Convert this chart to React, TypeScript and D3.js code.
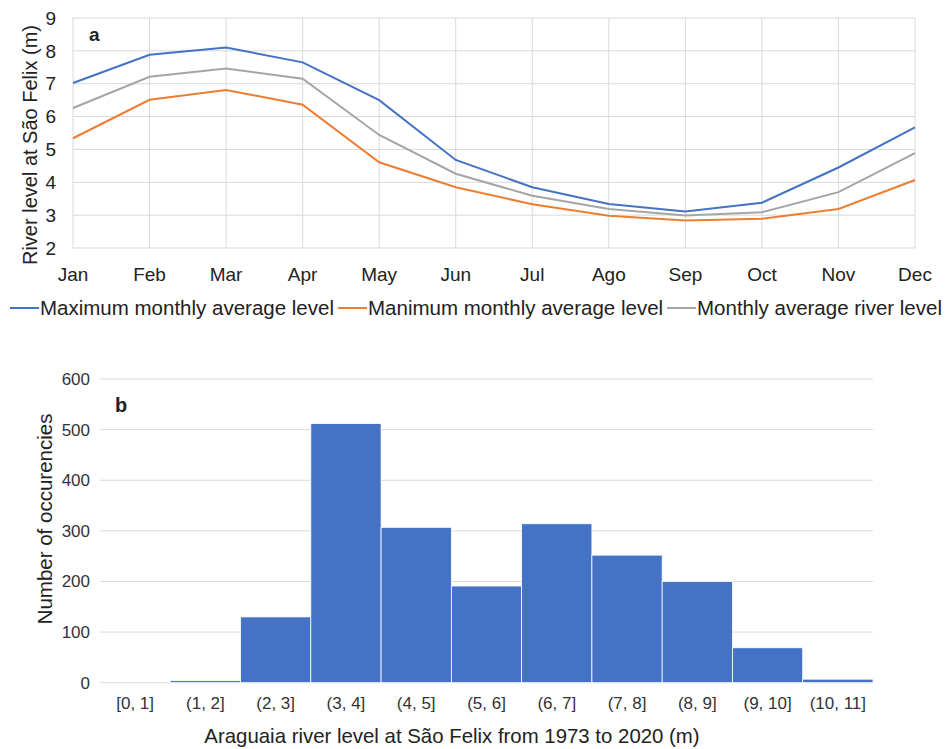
import * as d3 from 'd3';

const months = ['Jan', 'Feb', 'Mar', 'Apr', 'May', 'Jun', 'Jul', 'Ago', 'Sep', 'Oct', 'Nov', 'Dec'];
const maxLevel = [7.02, 7.88, 8.1, 7.65, 6.5, 4.68, 3.85, 3.34, 3.11, 3.38, 4.45, 5.67];
const minLevel = [5.34, 6.51, 6.81, 6.36, 4.61, 3.85, 3.33, 2.98, 2.84, 2.89, 3.19, 4.07];
const avgLevel = [6.26, 7.21, 7.46, 7.15, 5.44, 4.26, 3.59, 3.19, 2.99, 3.09, 3.7, 4.89];
const levelTicks = [2, 3, 4, 5, 6, 7, 8, 9];

const bins = ['[0, 1]', '(1, 2]', '(2, 3]', '(3, 4]', '(4, 5]', '(5, 6]', '(6, 7]', '(7, 8]', '(8, 9]', '(9, 10]', '(10, 11]'];
const counts = [0, 4, 130, 512, 307, 191, 314, 252, 200, 69, 7];
const countTicks = [0, 100, 200, 300, 400, 500, 600];

const series = [
  { name: 'Maximum monthly average level', values: maxLevel, color: '#4472C4' },
  { name: 'Manimum monthly average level', values: minLevel, color: '#ED7D31' },
  { name: 'Monthly average river level', values: avgLevel, color: '#A5A5A5' },
];

const FONT = '"Liberation Sans", Arial, sans-serif';
const GRID = '#d9d9d9';

export default function App() {
  // panel a
  const x = d3.scalePoint<string>().domain(months).range([73, 915]);
  const y = d3.scaleLinear().domain([2, 9]).range([248, 18]);
  const line = d3.line<number>()
    .x((_, i) => x(months[i]) as number)
    .y(d => y(d));

  // legend positions
  const legendX = [10, 338, 667];

  // panel b
  const xb = d3.scaleBand<string>().domain(bins).range([100, 873]).padding(0);
  const yb = d3.scaleLinear().domain([0, 600]).range([682.7, 379]);

  return (
    <svg width={950} height={749} style={{ position: 'absolute', left: 0, top: 0, background: '#fff' }}
      fontFamily={FONT}>
      {/* ---- panel a ---- */}
      <g>
        {levelTicks.map(t => (
          <line key={`h${t}`} x1={73} x2={915} y1={y(t)} y2={y(t)} stroke={GRID} strokeWidth={1} />
        ))}
        {months.map(m => (
          <line key={`v${m}`} x1={x(m)} x2={x(m)} y1={18} y2={248} stroke={GRID} strokeWidth={1} />
        ))}
        {levelTicks.map(t => (
          <text key={`yt${t}`} x={56} y={y(t)} dy="0.35em" textAnchor="end" fontSize={19} fill="#222">{t}</text>
        ))}
        {months.map(m => (
          <text key={`xt${m}`} x={x(m)} y={281} textAnchor="middle" fontSize={19} fill="#222">{m}</text>
        ))}
        <text transform="translate(37,145) rotate(-90)" textAnchor="middle" fontSize={20} fill="#222">
          River level at São Felix (m)
        </text>
        <text x={89} y={41} fontSize={19} fontWeight="bold" fill="#222">a</text>
        {[series[0], series[2], series[1]].map(s => (
          <path key={s.name} d={line(s.values) ?? ''} fill="none" stroke={s.color} strokeWidth={2} />
        ))}
        {series.map((s, i) => (
          <g key={`lg${i}`}>
            <line x1={legendX[i]} x2={legendX[i] + 29} y1={308} y2={308} stroke={s.color} strokeWidth={2} />
            <text x={legendX[i] + 30} y={315} fontSize={20.5} fill="#222">{s.name}</text>
          </g>
        ))}
      </g>

      {/* ---- panel b ---- */}
      <g>
        {countTicks.map(t => (
          <line key={`hb${t}`} x1={100} x2={873} y1={yb(t)} y2={yb(t)} stroke={GRID} strokeWidth={1} />
        ))}
        {bins.map((b, i) => (
          <rect key={`bar${b}`} x={xb(b)} y={yb(counts[i])} width={xb.bandwidth()}
            height={yb(0) - yb(counts[i])} fill="#4472C4" stroke="#fff" strokeWidth={0.8} />
        ))}
        {countTicks.map(t => (
          <text key={`ybt${t}`} x={90} y={yb(t)} dy="0.35em" textAnchor="end" fontSize={17} fill="#333">{t}</text>
        ))}
        {bins.map(b => (
          <text key={`xbt${b}`} x={(xb(b) as number) + xb.bandwidth() / 2} y={709} textAnchor="middle"
            fontSize={17} fill="#333">{b}</text>
        ))}
        <text transform="translate(52,519) rotate(-90)" textAnchor="middle" fontSize={20.5} fill="#222">
          Number of occurencies
        </text>
        <text x={452} y={743} textAnchor="middle" fontSize={20.4} fill="#222">
          Araguaia river level at São Felix from 1973 to 2020 (m)
        </text>
        <text x={115} y={412} fontSize={20} fontWeight="bold" fill="#222">b</text>
      </g>
    </svg>
  );
}
